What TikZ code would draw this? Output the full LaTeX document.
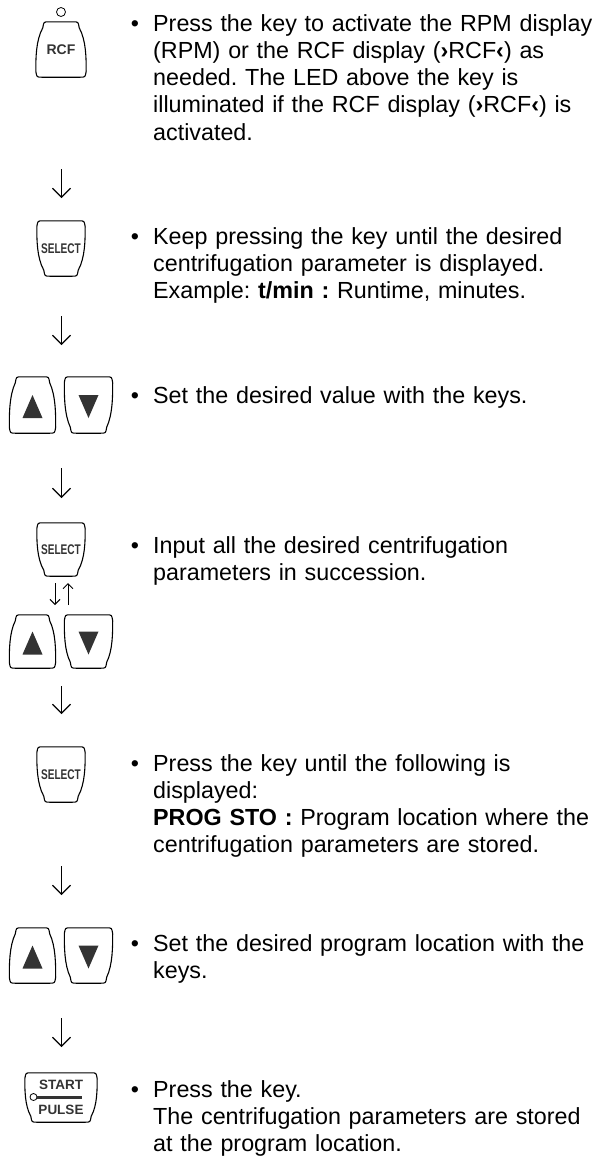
\documentclass[tikz,border=0pt]{standalone}
\usepackage{fontspec}
\setmainfont{Liberation Sans}
\usepackage{graphicx}
\usetikzlibrary{arrows.meta,calc,positioning}
\frenchspacing

\definecolor{keygray}{HTML}{333333}

% outline of a key around node #1, #2 = inset at the top, #3 = inset at the bottom
\newcommand\keybody[3]{%
  \draw[keyline] let \p1=(#1.north west), \p2=(#1.south east) in
    (\x1+#2+6pt,\y1) -- (\x2-#2-6pt,\y1)
    .. controls (\x2-#2-1pt,\y1) .. (\x2-#2,\y1-6pt)
    .. controls (\x2,{(2*\y1+\y2)/3}) and (\x2,{(\y1+2*\y2)/3}) .. (\x2-#3,\y2+6pt)
    .. controls (\x2-#3-1pt,\y2) .. (\x2-#3-6pt,\y2)
    -- (\x1+#3+6pt,\y2)
    .. controls (\x1+#3+1pt,\y2) .. (\x1+#3,\y2+6pt)
    .. controls (\x1,{(\y1+2*\y2)/3}) and (\x1,{(2*\y1+\y2)/3}) .. (\x1+#2,\y1-6pt)
    .. controls (\x1+#2+1pt,\y1) .. cycle;}
\newcommand\uptri[1]{\fill[keygray] ($(#1.center)+(0,-10)$) -- ($(#1.center)+(10,13)$) -- ($(#1.center)+(-10,13)$) -- cycle;}
\newcommand\downtri[1]{\fill[keygray] ($(#1.center)+(0,13)$) -- ($(#1.center)+(10,-10)$) -- ($(#1.center)+(-10,-10)$) -- cycle;}

\begin{document}
\begin{tikzpicture}[x=1pt, y=-1pt,
  key/.style={inner sep=0pt, font=\fontsize{14}{16}\selectfont\bfseries, text=keygray},
  keyline/.style={line width=1.1pt, line join=round},
  led/.style={circle, draw, line width=0.8pt, inner sep=0pt, minimum size=#1},
  txt/.style={anchor=base west, inner sep=0pt, text width=444pt, align=left, font=\fontsize{23.3}{27.3}\selectfont},
  dot/.style={anchor=base, inner sep=0pt, font=\fontsize{23.3}{27.3}\selectfont},
  arr/.style={-{Straight Barb[length=9pt,width=18pt]}, line width=1.1pt},
  arrsmall/.style={-{Straight Barb[length=5pt,width=10pt]}, line width=1pt}
]
\useasboundingbox (0,0) rectangle (599,1157);

% keys
\node[key, minimum width=50pt, minimum height=55pt] (rcf) at (61,49.5) {RCF};
\node[led=9pt] (rcfled) at (61,12) {};
\node[key, minimum width=48pt, minimum height=55pt] (sel1) at (61,248.5) {\scalebox{0.72}[1]{SELECT}};
\node[key, minimum width=46pt, minimum height=56pt] (up1) at (32.5,405) {};
\node[key, minimum width=48pt, minimum height=56pt] (dn1) at (88.5,405) {};
\node[key, minimum width=48pt, minimum height=53pt] (sel2) at (61,549.5) {\scalebox{0.72}[1]{SELECT}};
\node[key, minimum width=46pt, minimum height=53pt] (up2) at (32.5,641.5) {};
\node[key, minimum width=48pt, minimum height=53pt] (dn2) at (88.5,641.5) {};
\node[key, minimum width=48pt, minimum height=55pt] (sel3) at (61,774.5) {\scalebox{0.72}[1]{SELECT}};
\node[key, minimum width=46pt, minimum height=55pt] (up3) at (32.5,955.5) {};
\node[key, minimum width=48pt, minimum height=55pt] (dn3) at (88.5,955.5) {};
\node[key, minimum width=72pt, minimum height=49pt, align=center, font=\fontsize{13.5}{25}\selectfont\bfseries] (start) at (61,1097.5) {START\\PULSE};
\node[led=7pt] (startled) at (33.5,1097) {};

\keybody{rcf}{7pt}{0pt}
\keybody{sel1}{0pt}{7pt}
\keybody{up1}{6pt}{0pt}
\keybody{dn1}{0pt}{6pt}
\keybody{sel2}{0pt}{7pt}
\keybody{up2}{6pt}{0pt}
\keybody{dn2}{0pt}{6pt}
\keybody{sel3}{0pt}{7pt}
\keybody{up3}{6pt}{0pt}
\keybody{dn3}{0pt}{6pt}
\keybody{start}{0pt}{6pt}
\uptri{up1} \downtri{dn1}
\uptri{up2} \downtri{dn2}
\uptri{up3} \downtri{dn3}
\draw[keygray, line width=3pt] (startled.east) -- ++(45,0);

% texts
\node[txt] (t1) at (153,31) {Press the key to activate the RPM display\\(RPM) or the RCF display (\textbf{›}RCF\textbf{‹}) as\\needed. The LED above the key is\\illuminated if the RCF display (\textbf{›}RCF\textbf{‹}) is\\activated.};
\node[txt] (t2) at (153,244) {Keep pressing the key until the desired\\centrifugation parameter is displayed.\\Example: \textbf{t/min :} Runtime, minutes.};
\node[txt] (t3) at (153,403) {Set the desired value with the keys.};
\node[txt] (t4) at (153,553) {Input all the desired centrifugation\\parameters in succession.};
\node[txt] (t5) at (153,771) {Press the key until the following is\\displayed:\\\textbf{PROG STO :} Program location where the\\centrifugation parameters are stored.};
\node[txt] (t6) at (153,951) {Set the desired program location with the\\keys.};
\node[txt] (t7) at (153,1097) {Press the key.\\The centrifugation parameters are stored\\at the program location.};
\foreach \t in {t1,t2,t3,t4,t5,t6,t7}
  \node[dot] (b\t) at ([xshift=-18pt]\t.base west) {•};

% arrows between the steps
\coordinate (a1s) at (61.5,169); \coordinate (a1e) at (61.5,198);
\coordinate (a2s) at (61.5,316); \coordinate (a2e) at (61.5,345);
\coordinate (a3s) at (61.5,468); \coordinate (a3e) at (61.5,498);
\coordinate (a4s) at (61.5,686); \coordinate (a4e) at (61.5,714);
\coordinate (a5s) at (61.5,866); \coordinate (a5e) at (61.5,895);
\coordinate (a6s) at (61.5,1018); \coordinate (a6e) at (61.5,1047);
\foreach \i in {1,...,6}
  \draw[arr] (a\i s) -- (a\i e);
\coordinate (dns) at (55,583); \coordinate (dne) at (55,605);
\coordinate (ups) at (68,605); \coordinate (upe) at (68,583);
\draw[arrsmall] (dns) -- (dne);
\draw[arrsmall] (ups) -- (upe);
\end{tikzpicture}
\end{document}
